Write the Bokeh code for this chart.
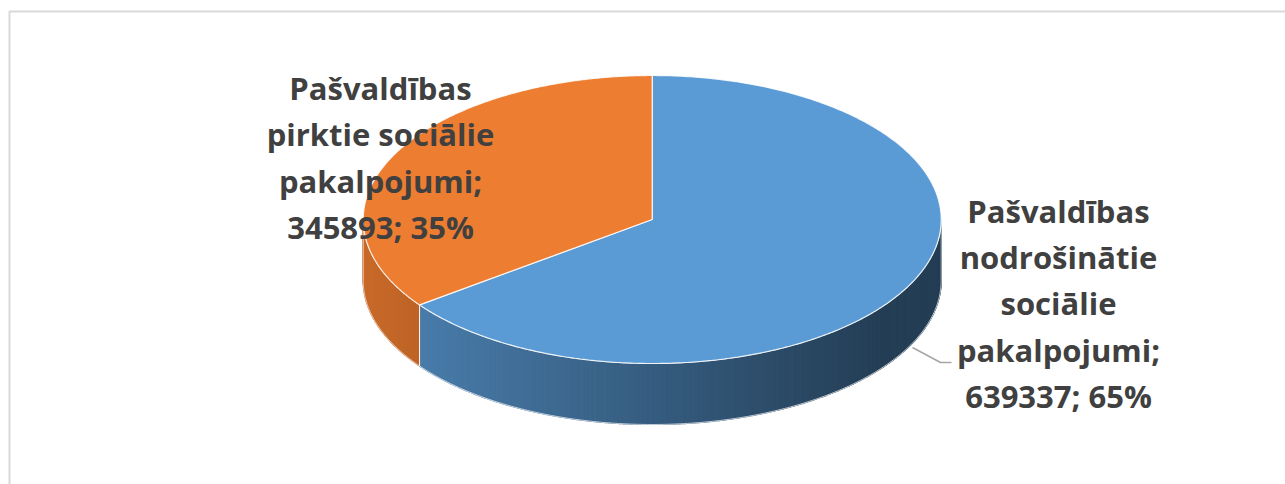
import textwrap
import numpy as np
from bokeh.plotting import figure
from bokeh.models import Range1d, ColumnDataSource
from bokeh.core.properties import value
from bokeh.embed import file_html
from bokeh.resources import INLINE

# ---- data ----
categories = ["Pašvaldības nodrošinātie sociālie pakalpojumi",
              "Pašvaldības pirktie sociālie pakalpojumi"]
values = [639337, 345893]
top_colors = ["#5B9BD5", "#ED7D31"]

# ---- layout constants (screen-like coordinates) ----
W, H = 1285, 484
CX, CY, RX, RY, DEPTH = 651.7, 219.0, 289.0, 144.0, 61.0
LABEL_X = [1058, 380]
LABEL_Y = [303, 157]
LEADER_X = [912, 940, 951]
LEADER_Y = [347, 362, 362]
FONT = "Open Sans"

p = figure(width=W, height=H, x_range=Range1d(0, W), y_range=Range1d(H, 0),
           x_axis_type=None, y_axis_type=None, output_backend="svg",
           toolbar_location=None, min_border=0, outline_line_color=None,
           background_fill_color="white", border_fill_color="white")
p.grid.visible = False

# chart area border (left and top edges, like the reference frame)
p.line([9, 9, W], [H, 11, 11], line_color="#D9D9D9", line_width=2)

total = float(sum(values))
fracs = [v / total for v in values]


def hex_rgb(h):
    h = h.lstrip("#")
    return tuple(int(h[i:i + 2], 16) for i in (0, 2, 4))


def shade(hexcol, x):
    t = (x - (CX - RX)) / (2 * RX)
    f = min(1.0, max(0.40, 0.85 - 0.5 * t))
    r, g, b = hex_rgb(hexcol)
    return "#%02x%02x%02x" % (int(r * f), int(g * f), int(b * f))


def ex(a):
    return CX + RX * np.cos(np.radians(a))


def ey(a):
    return CY - RY * np.sin(np.radians(a))


# slice angles: clockwise from 12 o'clock
slices = []
start = 90.0
for f in fracs:
    a0, a1 = start, start - 360.0 * f
    slices.append((a1, a0))
    start = a1

# ---- side walls (front half only) ----
strip_xs, strip_ys, strip_cols = [], [], []
wall_xs, wall_ys = [], []
for (lo, hi), col in zip(slices, top_colors):
    for k in range(-2, 2):
        vlo = max(lo, -180 + 360 * k)
        vhi = min(hi, 360 * k)
        if vhi - vlo <= 1e-6:
            continue
        n = max(2, int((vhi - vlo) * 2))
        edges = np.linspace(vlo, vhi, n + 1)
        for b0, b1 in zip(edges[:-1], edges[1:]):
            aa = np.linspace(b0, b1, 4)
            xs = list(ex(aa)) + list(ex(aa[::-1]))
            ys = list(ey(aa)) + list(ey(aa[::-1]) + DEPTH)
            strip_xs.append(xs)
            strip_ys.append(ys)
            strip_cols.append(shade(col, float(np.mean(ex(aa)))))
        aa = np.linspace(vlo, vhi, 200)
        wall_xs.append(list(ex(aa)) + list(ex(aa[::-1])) + [ex(vlo)])
        wall_ys.append(list(ey(aa)) + list(ey(aa[::-1]) + DEPTH) + [ey(vlo)])

p.patches(xs=strip_xs, ys=strip_ys, fill_color=strip_cols, line_color=strip_cols,
          line_width=1.2)
p.multi_line(xs=wall_xs, ys=wall_ys, line_color="white", line_alpha=0.7, line_width=1)

# ---- top faces ----
top_xs, top_ys = [], []
for (lo, hi) in slices:
    aa = np.linspace(hi, lo, 400)
    top_xs.append([CX] + list(ex(aa)))
    top_ys.append([CY] + list(ey(aa)))
p.patches(xs=top_xs, ys=top_ys, fill_color=top_colors, line_color="white",
          line_alpha=0.85, line_width=1.2)

# ---- leader line ----
p.line(LEADER_X, LEADER_Y, line_color="#A6A6A6", line_width=1.5)

# ---- labels ----
labels = []
for c, v, f in zip(categories, values, fracs):
    labels.append(textwrap.fill(f"{c}; {v}; {round(f * 100)}%", width=16))
src = ColumnDataSource(dict(x=LABEL_X, y=LABEL_Y, text=labels))
p.text(x="x", y="y", text="text", source=src, text_align="center",
       text_baseline="middle", text_font=value(FONT), text_font_style="bold",
       text_font_size="31px", text_color="#404040", text_line_height=1.10)

open("out.html", "w").write(file_html(p, INLINE))
